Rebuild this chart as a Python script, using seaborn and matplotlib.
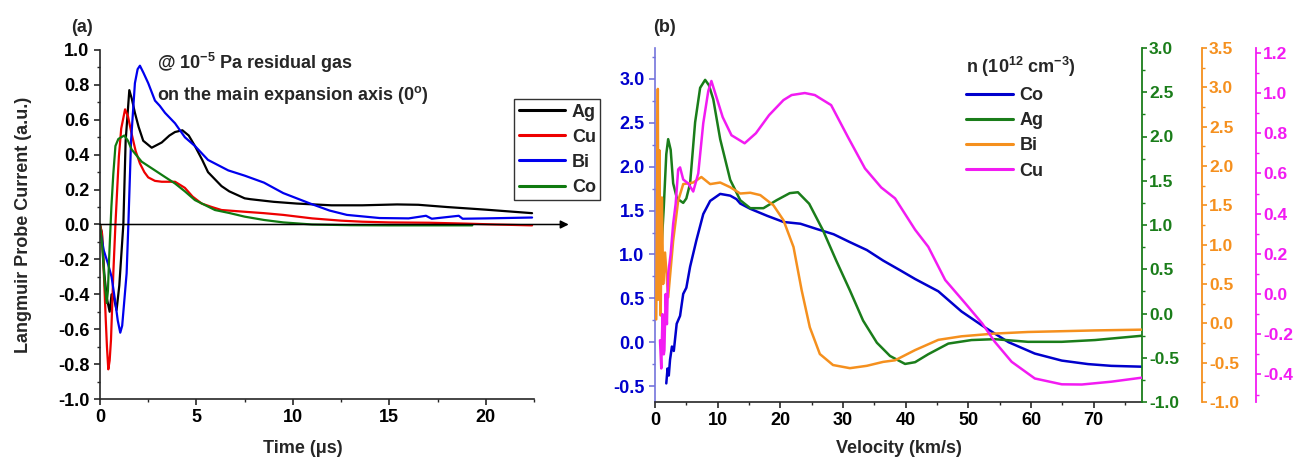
import matplotlib
matplotlib.use("Agg")
import matplotlib.pyplot as plt
from matplotlib.ticker import MultipleLocator, FormatStrFormatter
import seaborn as sns
import numpy as np

# ---------------- Panel (a) data: Langmuir probe current vs time ----------------
ag_t = [0, 0.1, 0.22, 0.35, 0.5, 0.6, 0.72, 0.86, 1.0, 1.21, 1.33, 1.52, 1.65, 1.81, 2.0, 2.24, 2.68,
        3.2, 3.6, 3.89, 4.27, 4.6, 4.92, 5.3, 5.6, 6.3, 6.7, 7.5, 7.8, 9.0, 10.2, 12.0, 13.6, 15.4,
        16.5, 18.0, 20.0, 22.4]
ag_v = [0, -0.05, -0.28, -0.42, -0.50, -0.40, -0.42, -0.49, -0.35, 0.0, 0.48, 0.77, 0.72, 0.64, 0.56,
        0.48, 0.44, 0.47, 0.51, 0.53, 0.54, 0.51, 0.45, 0.37, 0.30, 0.22, 0.19, 0.15, 0.145, 0.13,
        0.12, 0.11, 0.11, 0.115, 0.113, 0.10, 0.085, 0.065]

cu_t = [0, 0.1, 0.2, 0.3, 0.36, 0.43, 0.5, 0.57, 0.69, 0.8, 0.9, 0.98, 1.1, 1.3, 1.45, 1.64, 1.85,
        2.07, 2.3, 2.5, 2.85, 3.2, 3.6, 3.89, 4.4, 4.8, 5.27, 5.8, 6.3, 7.5, 8.5, 9.5, 11.0, 12.5,
        13.6, 15.0, 17.1, 19.0, 20.5, 22.4]
cu_v = [0, -0.05, -0.28, -0.55, -0.70, -0.83, -0.78, -0.66, -0.28, 0.0, 0.22, 0.39, 0.55, 0.66,
        0.62, 0.52, 0.42, 0.35, 0.30, 0.27, 0.25, 0.245, 0.245, 0.245, 0.21, 0.16, 0.12, 0.10,
        0.083, 0.073, 0.065, 0.055, 0.035, 0.022, 0.016, 0.012, 0.01, 0.005, 0.0, -0.005]

bi_t = [0, 0.2, 0.4, 0.6, 0.8, 0.92, 1.05, 1.15, 1.25, 1.38, 1.47, 1.61, 1.81, 1.95, 2.07, 2.25,
        2.5, 2.85, 3.1, 3.37, 3.89, 4.4, 4.92, 5.6, 6.65, 7.5, 8.5, 9.5, 10.9, 11.9, 12.8, 14.5,
        16.0, 16.9, 17.2, 18.6, 18.8, 20.0, 22.4]
bi_v = [-0.03, -0.15, -0.22, -0.30, -0.45, -0.55, -0.62, -0.58, -0.45, -0.28, 0.0, 0.48, 0.81,
        0.89, 0.91, 0.87, 0.81, 0.71, 0.68, 0.64, 0.58, 0.50, 0.45, 0.37, 0.31, 0.28, 0.24, 0.18,
        0.12, 0.08, 0.055, 0.037, 0.035, 0.05, 0.033, 0.05, 0.033, 0.035, 0.04]

co_t = [0, 0.12, 0.25, 0.35, 0.41, 0.47, 0.59, 0.69, 0.8, 0.95, 1.1, 1.26, 1.45, 1.64, 2.16, 2.85,
        3.4, 3.89, 4.4, 4.92, 5.96, 6.7, 7.5, 8.5, 9.5, 11.0, 13.0, 15.0, 17.0, 19.3]
co_v = [0, -0.13, -0.35, -0.45, -0.38, -0.2, 0.10, 0.29, 0.45, 0.49, 0.50, 0.51, 0.48, 0.43,
        0.36, 0.31, 0.27, 0.235, 0.19, 0.14, 0.083, 0.066, 0.045, 0.026, 0.012, 0.0, -0.004,
        -0.005, -0.005, -0.005]

# ---------------- Panel (b) data: density vs velocity ----------------
vb_co = [1.8, 2.0, 2.2, 2.4, 2.7, 3.0, 3.46, 4.0, 4.5, 5.0, 5.6, 6.6, 7.7, 8.8, 10.4, 12.0, 13.0,
         13.6, 15.2, 17.9, 20.5, 23.2, 25.8, 28.5, 31.1, 33.8, 36.4, 39.1, 41.5, 45.2, 48.9, 52.6,
         56.4, 60.6, 64.9, 69.1, 72.8, 77.9]
nb_co = [-0.47, -0.30, -0.38, -0.20, -0.05, -0.10, 0.21, 0.30, 0.55, 0.62, 0.86, 1.16, 1.46, 1.61,
         1.69, 1.67, 1.63, 1.58, 1.52, 1.44, 1.37, 1.35, 1.29, 1.23, 1.14, 1.05, 0.93, 0.82, 0.72,
         0.58, 0.35, 0.17, 0.0, -0.13, -0.21, -0.25, -0.27, -0.28]

vb_ag = [0.6, 1.0, 1.4, 1.8, 2.1, 2.5, 2.9, 3.5, 4.5, 5.0, 5.6, 6.4, 7.2, 8.0, 8.6, 9.3, 10.4,
         12.0, 13.6, 15.2, 17.3, 19.4, 21.5, 22.8, 24.6, 26.8, 28.9, 31.1, 33.2, 35.4, 37.5, 39.9,
         41.5, 43.6, 46.8, 50.5, 54.2, 59.5, 64.9, 70.2, 77.9]
nb_ag = [0.5, 0.7, 1.2, 1.8, 1.97, 1.85, 1.47, 1.3, 1.25, 1.3, 1.47, 2.16, 2.55, 2.64, 2.58, 2.42,
         1.97, 1.51, 1.28, 1.19, 1.19, 1.28, 1.36, 1.37, 1.24, 0.94, 0.60, 0.26, -0.08, -0.33,
         -0.48, -0.57, -0.55, -0.46, -0.34, -0.30, -0.29, -0.32, -0.32, -0.30, -0.25]

vb_bi = [0.2, 0.45, 0.55, 0.7, 0.9, 1.1, 1.3, 1.6, 2.1, 2.9, 3.7, 4.5, 6.1, 7.4, 8.8, 10.4, 12.0,
         13.6, 15.2, 16.8, 18.9, 20.5, 22.1, 23.4, 24.7, 26.3, 28.4, 31.1, 33.8, 36.4, 38.3, 41.5,
         45.2, 48.9, 54.2, 59.5, 64.9, 70.2, 77.9]
nb_bi = [0.05, 2.98, 0.3, 2.2, 0.1, 1.6, 0.5, 0.9, 0.33, 1.05, 1.56, 1.77, 1.79, 1.86, 1.77, 1.79,
         1.73, 1.65, 1.66, 1.63, 1.50, 1.31, 0.97, 0.42, -0.05, -0.39, -0.53, -0.57, -0.54, -0.49,
         -0.47, -0.34, -0.21, -0.165, -0.13, -0.11, -0.10, -0.09, -0.08]

vb_cu = [0.8, 1.0, 1.2, 1.4, 1.5, 1.7, 1.9, 2.1, 2.5, 2.9, 3.3, 3.7, 4.0, 4.5, 5.3, 6.1, 6.9, 7.7,
         8.5, 9.0, 9.8, 10.8, 12.2, 14.3, 16.1, 18.2, 20.5, 21.8, 23.9, 25.5, 28.1, 30.8, 33.5,
         36.1, 38.3, 41.5, 43.6, 46.3, 49.5, 52.2, 54.2, 56.9, 60.6, 64.9, 68.1, 72.8, 77.9]
nb_cu = [-0.23, -0.37, -0.1, -0.3, -0.28, 0.0, -0.15, 0.10, 0.2, 0.35, 0.45, 0.62, 0.63, 0.57,
         0.55, 0.51, 0.60, 0.85, 1.01, 1.06, 0.98, 0.88, 0.79, 0.75, 0.80, 0.89, 0.965, 0.99, 1.00,
         0.99, 0.94, 0.78, 0.625, 0.53, 0.476, 0.32, 0.235, 0.07, -0.046, -0.146, -0.237, -0.337,
         -0.42, -0.449, -0.45, -0.436, -0.415]

# ---------------- style ----------------
sns.set_style("ticks")
plt.rcParams['font.family'] = ['Liberation Sans', 'DejaVu Sans']
plt.rcParams['font.weight'] = 'bold'
plt.rcParams['axes.unicode_minus'] = False
plt.rcParams['mathtext.fontset'] = 'custom'
plt.rcParams['mathtext.rm'] = 'Liberation Sans:bold'
plt.rcParams['mathtext.bf'] = 'Liberation Sans:bold'
plt.rcParams['mathtext.it'] = 'Liberation Sans:bold'

TICKFONT = ['Liberation Sans', 'DejaVu Sans']
W, H = 1307, 463
fig = plt.figure(figsize=(W / 100, H / 100), dpi=100)

def style_ticks(ax, axis, color, fs=13):
    labels = ax.get_xticklabels() if axis == 'x' else ax.get_yticklabels()
    for lab in labels:
        lab.set_fontfamily(TICKFONT)
        lab.set_fontweight('bold')
        lab.set_fontsize(fs)
        lab.set_color(color)

# ---------------- Panel (a) ----------------
ax1 = fig.add_axes([100 / W, 1 - 399 / H, 434 / W, 349 / H])
lw_a = 1.6
sns.lineplot(x=ag_t, y=ag_v, ax=ax1, color='black', lw=lw_a, label='Ag', legend=False)
sns.lineplot(x=cu_t, y=cu_v, ax=ax1, color='#ee0000', lw=lw_a, label='Cu', legend=False)
sns.lineplot(x=bi_t, y=bi_v, ax=ax1, color='#0000ee', lw=lw_a, label='Bi', legend=False)
sns.lineplot(x=co_t, y=co_v, ax=ax1, color='#107a10', lw=lw_a, label='Co', legend=False)
ax1.set_xlim(0, 22.5)
ax1.set_ylim(-1.0, 1.0)
ax1.spines['top'].set_visible(False)
ax1.spines['right'].set_visible(False)
for s in ['left', 'bottom']:
    ax1.spines[s].set_linewidth(1.2)
ax1.xaxis.set_major_locator(MultipleLocator(5))
ax1.xaxis.set_minor_locator(MultipleLocator(2.5))
ax1.yaxis.set_major_locator(MultipleLocator(0.2))
ax1.yaxis.set_minor_locator(MultipleLocator(0.1))
ax1.yaxis.set_major_formatter(FormatStrFormatter('%.1f'))
ax1.tick_params(which='major', direction='out', length=4, width=1.2)
ax1.tick_params(which='minor', direction='out', length=2.5, width=1.0)
style_ticks(ax1, 'x', 'black')
style_ticks(ax1, 'y', 'black')
ax1.annotate('', xy=(24.3, 0), xytext=(0, 0),
             arrowprops=dict(arrowstyle='-|>', color='black', lw=1.1, mutation_scale=12,
                             shrinkA=0, shrinkB=0), annotation_clip=False)
ax1.set_xlabel('Time (\u03bcs)', fontsize=13, fontweight='bold')
ax1.set_ylabel('Langmuir Probe Current (a.u.)', fontsize=13, fontweight='bold')
ax1.xaxis.set_label_coords(0.468, -0.118)
ax1.yaxis.set_label_coords(-0.157, 0.5)
leg1 = ax1.legend(loc='upper left', bbox_to_anchor=(514 / W, 1 - 99 / H),
                  bbox_transform=fig.transFigure, fontsize=13, frameon=True, fancybox=False,
                  edgecolor='black', handlelength=2.6, handletextpad=0.35, labelspacing=0.45,
                  borderpad=0.25, borderaxespad=0)
leg1.get_frame().set_linewidth(1.0)
for h in leg1.get_lines():
    h.set_linewidth(2.2)
for t in leg1.get_texts():
    t.set_fontweight('bold')

fig.text(157 / W, 1 - 63 / H, r'@ 10$^{\mathbf{-5}}$ Pa residual gas', fontsize=13,
         fontweight='bold', va='center', ha='left')
fig.text(157 / W, 1 - 95 / H, r'on the main expansion axis (0$^{\mathbf{o}}$)', fontsize=13,
         fontweight='bold', va='center', ha='left')
fig.text(82 / W, 1 - 27 / H, '(a)', fontsize=13, fontweight='bold', ha='center', va='center')
fig.text(664 / W, 1 - 27 / H, '(b)', fontsize=13, fontweight='bold', ha='center', va='center')

# ---------------- Panel (b) ----------------
C_BLUE = '#0000cc'
C_GREEN = '#1a7d1a'
C_ORANGE = '#f5901e'
C_MAG = '#f21bf2'

ax2 = fig.add_axes([655 / W, 1 - 402 / H, 487 / W, 354 / H])
axg = ax2.twinx()
axo = ax2.twinx()
axm = ax2.twinx()
lw_b = 1.8
sns.lineplot(x=vb_co, y=nb_co, ax=ax2, color=C_BLUE, lw=lw_b, label='Co', legend=False)
sns.lineplot(x=vb_ag, y=nb_ag, ax=axg, color=C_GREEN, lw=lw_b, label='Ag', legend=False)
sns.lineplot(x=vb_bi, y=nb_bi, ax=axo, color=C_ORANGE, lw=lw_b, label='Bi', legend=False)
sns.lineplot(x=vb_cu, y=nb_cu, ax=axm, color=C_MAG, lw=lw_b, label='Cu', legend=False)

ax2.set_xlim(0, 77.7)
ax2.set_ylim(-0.682, 3.353)
axg.set_ylim(-1.0, 3.0)
axo.set_ylim(-1.0, 3.5)
axm.set_ylim(-0.537, 1.224)

ax2.spines['top'].set_visible(False)
ax2.spines['right'].set_visible(False)
ax2.spines['left'].set_color('#7474dc')
ax2.spines['left'].set_linewidth(1.2)
ax2.spines['bottom'].set_linewidth(1.2)
for a in (axg, axo, axm):
    for s in ('top', 'left', 'bottom'):
        a.spines[s].set_visible(False)
axo.spines['right'].set_position(('outward', 60 * 0.72))
axm.spines['right'].set_position(('outward', 114 * 0.72))

ax2.xaxis.set_major_locator(MultipleLocator(10))
ax2.xaxis.set_minor_locator(MultipleLocator(5))
ax2.yaxis.set_major_locator(MultipleLocator(0.5))
ax2.yaxis.set_minor_locator(MultipleLocator(0.25))
ax2.yaxis.set_major_formatter(FormatStrFormatter('%.1f'))
ax2.tick_params(axis='x', which='major', direction='out', length=4, width=1.2)
ax2.tick_params(axis='x', which='minor', direction='out', length=2.5, width=1.0)
ax2.tick_params(axis='y', which='major', direction='out', length=4, width=1.2, color='#7474dc')
ax2.tick_params(axis='y', which='minor', direction='out', length=2.5, width=1.0, color='#7474dc')
style_ticks(ax2, 'x', 'black')
style_ticks(ax2, 'y', C_BLUE)

for a, col, major, minor in ((axg, C_GREEN, 0.5, 0.25), (axo, C_ORANGE, 0.5, 0.25),
                             (axm, C_MAG, 0.2, 0.1)):
    a.spines['right'].set_color(col)
    a.spines['right'].set_linewidth(1.3)
    a.yaxis.set_major_locator(MultipleLocator(major))
    a.yaxis.set_minor_locator(MultipleLocator(minor))
    a.yaxis.set_major_formatter(FormatStrFormatter('%.1f'))
    a.tick_params(axis='y', which='major', direction='out', length=3.5, width=1.2, color=col,
                  pad=1.5)
    a.tick_params(axis='y', which='minor', direction='out', length=2, width=1.0, color=col)
    a.set_ylabel('')
    style_ticks(a, 'y', col, fs=12.5)

ax2.set_xlabel('Velocity (km/s)', fontsize=13, fontweight='bold')
ax2.xaxis.set_label_coords(0.5, -0.108)
ax2.set_ylabel('')

handles = []
for a in (ax2, axg, axo, axm):
    handles += a.get_lines()
leg2 = axm.legend(handles=handles, labels=['Co', 'Ag', 'Bi', 'Cu'], loc='upper left',
                  bbox_to_anchor=(966 / W, 1 - 55 / H), bbox_transform=fig.transFigure,
                  frameon=False, fontsize=13, title='n (10$^{12}$ cm$^{-3}$)',
                  title_fontproperties={'size': 13, 'weight': 'bold'}, alignment='left',
                  handlelength=2.6, handletextpad=0.35, labelspacing=0.45, borderpad=0,
                  borderaxespad=0)
for h in leg2.get_lines():
    h.set_linewidth(2.2)
for t in leg2.get_texts():
    t.set_fontweight('bold')

fig.savefig('out.png', dpi=100)
